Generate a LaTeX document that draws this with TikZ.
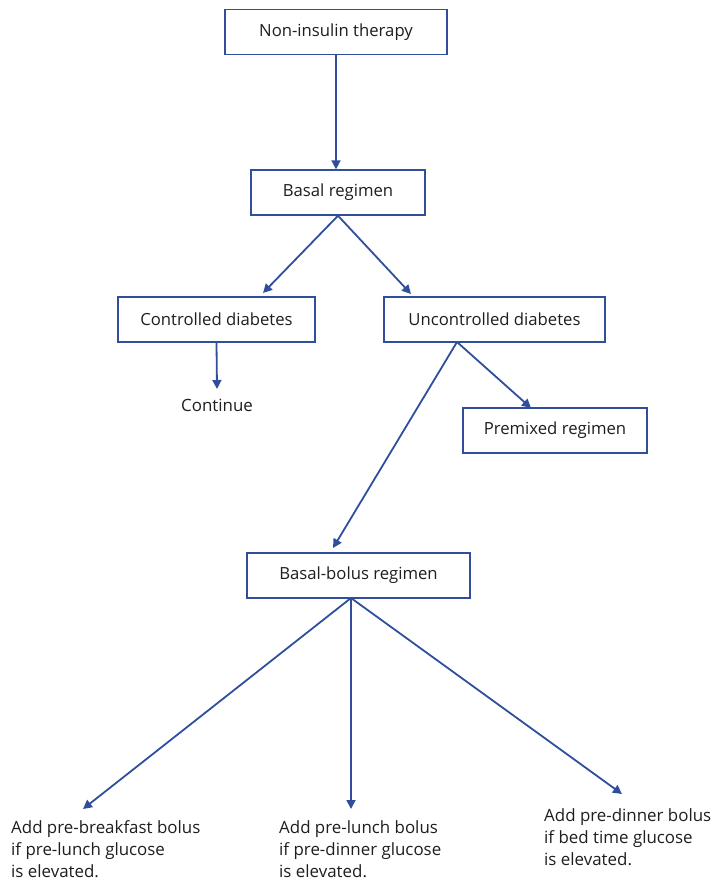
\documentclass[tikz,border=0pt]{standalone}
\usepackage{fontspec}
\setmainfont{Open Sans}
\usetikzlibrary{arrows.meta,calc}
\definecolor{flowblue}{HTML}{2F4E9C}
\definecolor{ink}{HTML}{1E1E1E}
\begin{document}
\begin{tikzpicture}[x=1pt,y=1pt,
  box/.style={draw=flowblue,line width=1.4pt,fill=white,text=ink,
    minimum height=45pt,inner sep=0pt,font=\fontsize{16.7}{20}\selectfont},
  label/.style={text=ink,inner sep=0pt,align=left,font=\fontsize{16.9}{22}\selectfont},
  arr/.style={draw=flowblue,line width=1.8pt,-{Triangle[length=9pt,width=9pt]}}]
\useasboundingbox (0,0) rectangle (716,-881);
% boxes
\node[box,minimum width=222pt] (nonins) at (336,-32) {Non-insulin therapy};
\node[box,minimum width=174pt] (basal) at (338,-192.5) {Basal regimen};
\node[box,minimum width=197pt] (ctrl) at (216.5,-319.5) {Controlled diabetes};
\node[box,minimum width=221pt] (unctrl) at (494.5,-319.5) {Uncontrolled diabetes};
\node[box,minimum width=184pt] (premix) at (555,-430.5) {Premixed regimen};
\node[box,minimum width=223pt] (bolus) at (358.5,-575.5) {Basal-bolus regimen};
% free text
\node[label,anchor=center] (cont) at (217,-405) {Continue};
\node[label,anchor=north west] (bfast) at (11,-820) {Add pre-breakfast bolus\\if pre-lunch glucose\\is elevated.};
\node[label,anchor=north west] (lunch) at (279,-820) {Add pre-lunch bolus\\if pre-dinner glucose\\is elevated.};
\node[label,anchor=north west] (dinner) at (544,-808) {Add pre-dinner bolus\\if bed time glucose\\is elevated.};
% connector end points
\coordinate (uc) at (457,-342);
\coordinate (bb) at (351,-598);
\coordinate (c1) at (263,-293);
\coordinate (c2) at (411,-294);
\coordinate (c3) at (531,-408);
\coordinate (c4) at (333,-548);
\coordinate (c5) at (83,-809);
\coordinate (c6) at (351,-809);
\coordinate (c7) at (622,-794);
% connectors
\draw[arr] (nonins.south) -- (nonins.south |- basal.north);
\draw[arr] (basal.south) -- (c1);
\draw[arr] (basal.south) -- (c2);
\draw[arr] (ctrl.south) -- (217,-389);
\draw[arr] (uc) -- (c3);
\draw[arr] (uc) -- (c4);
\draw[arr] (bb) -- (c5);
\draw[arr] (bb) -- (c6);
\draw[arr] (bb) -- (c7);
\end{tikzpicture}
\end{document}
